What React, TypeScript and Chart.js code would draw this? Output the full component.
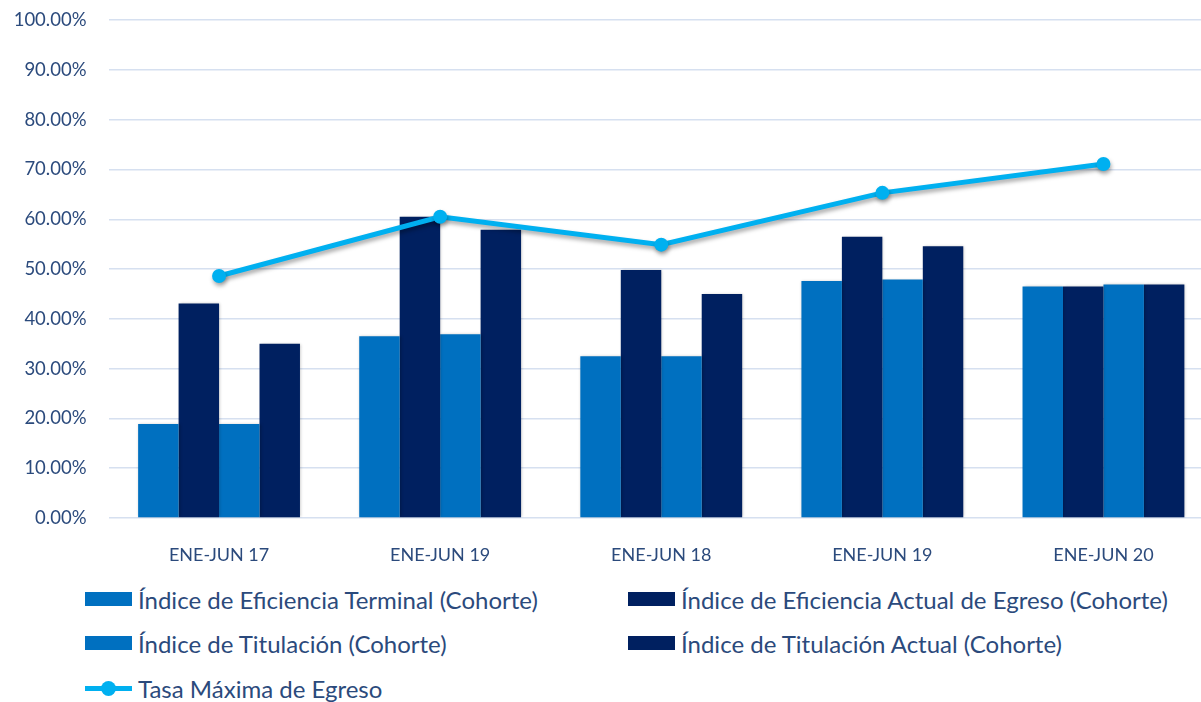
import React, { useEffect, useRef } from "react";
import { Chart, registerables } from "chart.js";

Chart.register(...registerables);

const categories = ["ENE-JUN 17", "ENE-JUN 19", "ENE-JUN 18", "ENE-JUN 19", "ENE-JUN 20"];
const eficienciaTerminal = [18.9, 36.5, 32.5, 47.6, 46.5];
const eficienciaActual = [43.1, 60.5, 49.8, 56.5, 46.5];
const titulacion = [18.9, 36.9, 32.5, 47.9, 46.9];
const titulacionActual = [35.0, 57.9, 45.0, 54.6, 46.9];
const tasaMaxima = [48.6, 60.5, 54.9, 65.3, 71.1];
const seriesNames = [
  "Índice de Eficiencia Terminal (Cohorte)",
  "Índice de Eficiencia Actual de Egreso (Cohorte)",
  "Índice de Titulación (Cohorte)",
  "Índice de Titulación Actual (Cohorte)",
  "Tasa Máxima de Egreso",
];

const BLUE = "#0070C0";
const DARK = "#002060";
const LINE = "#00B0F0";
const TEXT = "#2B4A7C";
const FONT = "Lato, 'Open Sans', sans-serif";

const CANVAS_TOP = -13;
const CANVAS_W = 1221;
const CANVAS_H = 583;
const AXIS_BOTTOM = 518 - CANVAS_TOP;

const shadowPlugin = {
  id: "shadowPlugin",
  beforeDatasetDraw(chart: any, args: any) {
    const ctx = chart.ctx;
    ctx.save();
    if (args.index === 0) {
      ctx.shadowColor = "rgba(0,0,0,0.35)";
      ctx.shadowBlur = 4;
      ctx.shadowOffsetX = 1;
      ctx.shadowOffsetY = 3;
    } else {
      ctx.shadowColor = "rgba(0,0,0,0.25)";
      ctx.shadowBlur = 3;
      ctx.shadowOffsetX = 1;
      ctx.shadowOffsetY = 0;
    }
  },
  afterDatasetDraw(chart: any) {
    chart.ctx.restore();
  },
};

function ChartView() {
  const ref = useRef<HTMLCanvasElement | null>(null);
  useEffect(() => {
    if (!ref.current) return;
    const chart = new Chart(ref.current, {
      type: "bar",
      data: {
        labels: categories,
        datasets: [
          { type: "line" as const, label: seriesNames[4], data: tasaMaxima, borderColor: LINE, backgroundColor: LINE, borderWidth: 5, pointRadius: 7, pointBackgroundColor: LINE, pointBorderWidth: 0, tension: 0, order: 0 } as any,
          { label: seriesNames[0], data: eficienciaTerminal, backgroundColor: BLUE, order: 1 },
          { label: seriesNames[1], data: eficienciaActual, backgroundColor: DARK, order: 1 },
          { label: seriesNames[2], data: titulacion, backgroundColor: BLUE, order: 1 },
          { label: seriesNames[3], data: titulacionActual, backgroundColor: DARK, order: 1 },
        ],
      },
      options: {
        responsive: false,
        animation: false,
        layout: { padding: { top: 6, right: 0, left: 0, bottom: 0 } },
        datasets: { bar: { categoryPercentage: 0.732, barPercentage: 1 } },
        plugins: { legend: { display: false }, tooltip: { enabled: false } },
        scales: {
          x: {
            grid: { display: false },
            border: { display: false },
            ticks: { color: TEXT, font: { family: FONT, size: 18 }, padding: 18, maxRotation: 0 },
            afterFit(scale: any) { scale.height = CANVAS_H - AXIS_BOTTOM; },
          },
          y: {
            min: 0,
            max: 100,
            grid: { color: "#D6E0F0", lineWidth: 1.5, drawTicks: false },
            border: { display: false },
            ticks: {
              stepSize: 10,
              color: TEXT,
              font: { family: FONT, size: 18.5 },
              padding: 22,
              callback: (v: any) => Number(v).toFixed(2) + "%",
            },
            afterFit(scale: any) { scale.width = 108.5; },
          },
        },
      },
      plugins: [shadowPlugin],
    });
    return () => chart.destroy();
  }, []);
  return <canvas ref={ref} width={CANVAS_W} height={CANVAS_H} style={{ position: "absolute", left: 0, top: CANVAS_TOP, width: CANVAS_W, height: CANVAS_H }} />;
}

function LegendItem({ x, y, idx }: { x: number; y: number; idx: number }) {
  const isLine = idx === 4;
  const color = idx === 0 || idx === 2 ? BLUE : idx === 4 ? LINE : DARK;
  return (
    <div style={{ position: "absolute", left: x, top: y - 16, height: 32, display: "flex", alignItems: "center", whiteSpace: "nowrap" }}>
      {isLine ? (
        <div style={{ position: "relative", width: 47, height: 15, marginRight: 6 }}>
          <div style={{ position: "absolute", left: 0, top: 5, width: 47, height: 5, background: LINE }} />
          <div style={{ position: "absolute", left: 16, top: 0, width: 15, height: 15, borderRadius: 8, background: LINE }} />
        </div>
      ) : (
        <div style={{ width: 47, height: 14, background: color, marginRight: 6 }} />
      )}
      <span style={{ fontFamily: FONT, fontSize: 24, color: TEXT }}>{seriesNames[idx]}</span>
    </div>
  );
}

export default function App() {
  return (
    <div style={{ position: "fixed", left: 0, top: 0, width: 1201, height: 702, overflow: "hidden", background: "#fff" }}>
      <ChartView />
      <LegendItem x={85} y={599} idx={0} />
      <LegendItem x={628} y={599} idx={1} />
      <LegendItem x={85} y={643} idx={2} />
      <LegendItem x={628} y={643} idx={3} />
      <LegendItem x={85} y={688} idx={4} />
    </div>
  );
}
